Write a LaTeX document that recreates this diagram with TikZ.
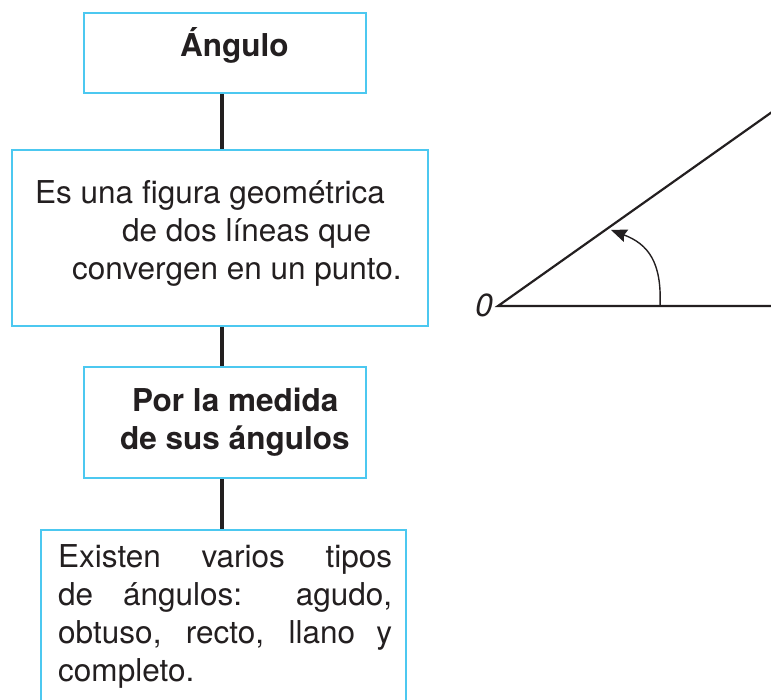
\documentclass[tikz,border=0pt]{standalone}
\usepackage{fontspec}
\setmainfont{TeX Gyre Heros}
\usetikzlibrary{arrows.meta}
\definecolor{boxblue}{HTML}{4CC8F0}
\definecolor{ink}{HTML}{231F20}
\begin{document}
\begin{tikzpicture}[x=1pt,y=-1pt,
  mapbox/.style={draw=boxblue,line width=2.2pt,fill=white,inner sep=0pt,anchor=north west},
  link/.style={ink,line width=4pt},
  txt/.style={text=ink,inner sep=0pt,anchor=base west,font=\fontsize{31.5}{38}\selectfont},
  btxt/.style={txt,font=\fontsize{31.5}{38}\selectfont\bfseries},
  ray/.style={ink,line width=2.2pt},
]
\useasboundingbox (0,0) rectangle (771,700);
% boxes
\node[mapbox,minimum width=282pt,minimum height=80pt] (b1) at (83,12) {};
\node[mapbox,minimum width=416pt,minimum height=176pt] (b2) at (11,149) {};
\node[mapbox,minimum width=282pt,minimum height=111pt] (b3) at (83,366) {};
\node[mapbox,minimum width=365pt,minimum height=200pt] (b4) at (40,529) {};
% connectors
\draw[link] (b1.south -| 222,0) -- (b2.north -| 222,0);
\draw[link] (b2.south -| 222,0) -- (b3.north -| 222,0);
\draw[link] (b3.south -| 222,0) -- (b4.north -| 222,0);
% texts
\node[btxt] (t1) at (180,57) {Ángulo};
\node[txt] (t2a) at (35,204) {Es una figura geométrica};
\node[txt] (t2b) at (122,242) {de dos líneas que};
\node[txt] (t2c) at (72,280) {convergen en un punto.};
\node[btxt] (t3a) at (132,412) {Por la medida};
\node[btxt] (t3b) at (120,449) {de sus ángulos};
\node[txt,text width=334pt,align=justify] (t4) at (58,567)
  {Existen varios tipos\linebreak de ángulos: agudo,\linebreak obtuso, recto, llano y\linebreak completo.};
% angle
\coordinate (O) at (498,306);
\coordinate (H) at (772,306);
\coordinate (U) at (772,112);
\draw[ray] (H) -- (O) -- (U);
\node[text=ink,inner sep=0pt,font=\fontsize{32}{38}\selectfont\itshape] (lbl) at (484,305) {0};
\coordinate (a0) at (660,306);
\coordinate (a1) at (611,230);
\draw[ink,line width=1.4pt,-{Stealth[length=16pt,width=13pt,inset=2pt]}] (a0) .. controls (662,262) and (648,244) .. (a1);
\end{tikzpicture}
\end{document}
